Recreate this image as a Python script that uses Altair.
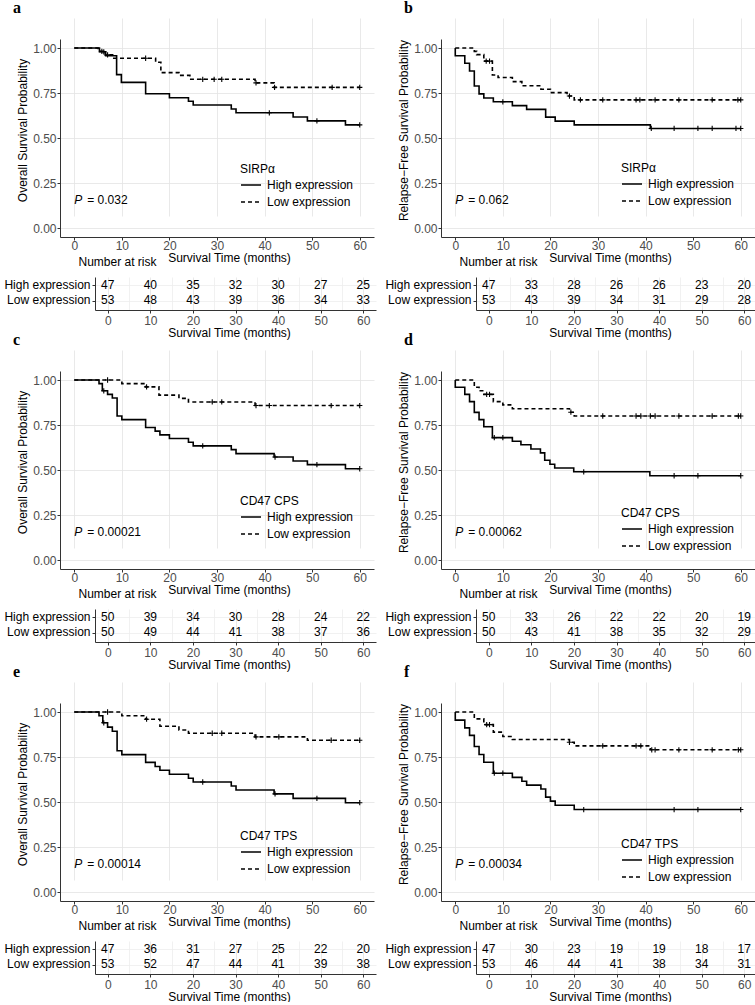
import altair as alt
import pandas as pd

FONT = "Liberation Sans"
SERIF = "Liberation Serif"
GROUPS = ["High expression", "Low expression"]
RISK_TIMES = [0, 10, 20, 30, 40, 50, 60]
X_DOMAIN = [-3, 63]
GRID_MAJOR = "#e3e3e3"
GRID_MINOR = "#eeeeee"
AXIS_INK = "#333333"

# ---------------- panel a : SIRPa, overall survival ----------------
a_high_t = [0, 5.3, 6.6, 8.9, 9.9, 15.0, 20.0, 24.0, 25.0, 33.0, 34.0, 46.0, 49.0, 57.0, 60.0]
a_high_s = [1.0, 0.979, 0.957, 0.852, 0.809, 0.746, 0.724, 0.704, 0.683, 0.661, 0.640, 0.617, 0.595, 0.573, 0.573]
a_high_c = [6.2, 41.0, 51.0, 60.0]
a_low_t = [0, 5.0, 6.5, 8.3, 17.1, 18.2, 22.0, 24.3, 38.0, 42.0, 60.0]
a_low_s = [1.0, 0.981, 0.962, 0.943, 0.921, 0.863, 0.848, 0.826, 0.806, 0.781, 0.781]
a_low_c = [5.8, 7.0, 15.0, 27.0, 29.4, 31.0, 38.2, 42.1, 54.2, 60.0]
a_high_n = [47, 40, 35, 32, 30, 27, 25]
a_low_n = [53, 48, 43, 39, 36, 34, 33]

# ---------------- panel b : SIRPa, relapse-free survival ----------------
b_high_t = [0, 0, 2, 3, 4, 5, 6, 8, 12, 15, 19, 21, 25, 41, 60]
b_high_s = [1.0, 0.957, 0.915, 0.872, 0.789, 0.745, 0.722, 0.701, 0.680, 0.659, 0.616, 0.594, 0.573, 0.553, 0.553]
b_high_c = [10.0, 41.2, 46.0, 51.0, 54.0, 59.0, 60.0]
b_low_t = [0, 4.0, 4.5, 6.0, 7.8, 9.0, 12.0, 14.0, 18.0, 20.0, 23.5, 25.0, 60.0]
b_low_s = [1.0, 0.981, 0.963, 0.927, 0.850, 0.836, 0.813, 0.790, 0.771, 0.752, 0.733, 0.712, 0.712]
b_low_c = [6.5, 7.2, 24.0, 26.3, 31.0, 38.0, 38.8, 42.0, 47.0, 54.0, 59.4, 60.0]
b_high_n = [47, 33, 28, 26, 26, 23, 20]
b_low_n = [53, 43, 39, 34, 31, 29, 28]

# ---------------- panel c : CD47 CPS, overall survival ----------------
c_high_t = [0, 5.2, 5.9, 7.0, 8.0, 9.0, 10.0, 15.0, 17.0, 18.0, 20.0, 24.0, 25.0, 33.0, 34.0, 42.0, 46.0, 49.0, 57.0, 60.0]
c_high_s = [1.0, 0.980, 0.940, 0.920, 0.900, 0.800, 0.780, 0.736, 0.716, 0.695, 0.675, 0.654, 0.634, 0.613, 0.591, 0.572, 0.550, 0.530, 0.507, 0.507]
c_high_c = [6.2, 27.0, 42.2, 51.0, 60.0]
c_low_t = [0, 10.0, 15.0, 17.8, 22.0, 24.0, 38.0, 60.0]
c_low_s = [1.0, 0.980, 0.962, 0.916, 0.898, 0.878, 0.858, 0.858]
c_low_c = [7.0, 15.2, 29.0, 31.0, 38.2, 41.0, 54.0, 60.0]
c_high_n = [50, 39, 34, 30, 28, 24, 22]
c_low_n = [50, 49, 44, 41, 38, 37, 36]

# ---------------- panel d : CD47 CPS, relapse-free survival ----------------
d_high_t = [0, 0, 2, 3, 4, 5, 6, 7.8, 12, 13.8, 15.9, 17.9, 18.8, 19.9, 20.9, 24.9, 40.9, 60]
d_high_s = [1.0, 0.960, 0.920, 0.880, 0.820, 0.780, 0.740, 0.680, 0.660, 0.640, 0.617, 0.595, 0.554, 0.532, 0.511, 0.490, 0.468, 0.468]
d_high_c = [8.2, 10.0, 27.0, 46.0, 51.0, 60.0]
d_low_t = [0, 4.0, 5.0, 6.0, 8.0, 10.0, 12.0, 24.0, 25.0, 60.0]
d_low_s = [1.0, 0.960, 0.940, 0.920, 0.880, 0.862, 0.840, 0.821, 0.800, 0.800]
d_low_c = [6.6, 7.2, 24.3, 31.0, 38.0, 39.0, 41.0, 42.0, 47.0, 54.0, 59.5, 60.0]
d_high_n = [50, 33, 26, 22, 22, 20, 19]
d_low_n = [50, 43, 41, 38, 35, 32, 29]

# ---------------- panel e : CD47 TPS, overall survival ----------------
e_high_t = [0, 5.2, 6.0, 7.0, 8.0, 9.0, 10.0, 15.0, 17.0, 18.0, 20.0, 24.0, 25.0, 33.0, 34.0, 42.0, 46.0, 57.0, 60.0]
e_high_s = [1.0, 0.979, 0.940, 0.916, 0.893, 0.785, 0.763, 0.720, 0.697, 0.676, 0.654, 0.632, 0.611, 0.589, 0.567, 0.545, 0.520, 0.496, 0.496]
e_high_c = [6.2, 27.0, 42.2, 51.0, 60.0]
e_low_t = [0, 10.0, 15.0, 18.0, 22.0, 24.0, 38.0, 49.0, 60.0]
e_low_s = [1.0, 0.979, 0.960, 0.921, 0.900, 0.882, 0.862, 0.843, 0.843]
e_low_c = [7.0, 15.2, 29.0, 31.0, 38.2, 43.0, 54.0, 60.0]
e_high_n = [47, 36, 31, 27, 25, 22, 20]
e_low_n = [53, 52, 47, 44, 41, 39, 38]

# ---------------- panel f : CD47 TPS, relapse-free survival ----------------
f_high_t = [0, 0, 2, 3, 4, 5, 6, 8, 12, 14, 15, 18, 19, 20, 21, 25, 60]
f_high_s = [1.0, 0.955, 0.912, 0.870, 0.808, 0.764, 0.721, 0.660, 0.637, 0.615, 0.594, 0.572, 0.527, 0.505, 0.482, 0.458, 0.458]
f_high_c = [8.2, 10.0, 27.0, 46.0, 51.0, 60.0]
f_low_t = [0, 4.0, 6.0, 8.0, 10.0, 12.0, 24.0, 25.0, 41.0, 60.0]
f_low_s = [1.0, 0.962, 0.930, 0.888, 0.864, 0.847, 0.832, 0.812, 0.790, 0.790]
f_low_c = [6.6, 7.2, 24.0, 31.0, 38.0, 39.0, 41.3, 42.0, 47.0, 54.0, 59.5, 60.0]
f_high_n = [47, 30, 23, 19, 19, 18, 17]
f_low_n = [53, 46, 44, 41, 38, 34, 31]

OS_TITLE = "Overall Survival Probability"
RFS_TITLE = "Relapse\u2212Free Survival Probability"

PANELS = [
    dict(label="a", label_dx=-47, ytitle=OS_TITLE, legend="SIRP\u03b1", legend_y=146, pval="= 0.032",
         high=(a_high_t, a_high_s, a_high_c), low=(a_low_t, a_low_s, a_low_c), high_n=a_high_n, low_n=a_low_n),
    dict(label="b", label_dx=-37, ytitle=RFS_TITLE, legend="SIRP\u03b1", legend_y=145, pval="= 0.062",
         high=(b_high_t, b_high_s, b_high_c), low=(b_low_t, b_low_s, b_low_c), high_n=b_high_n, low_n=b_low_n),
    dict(label="c", label_dx=-47, ytitle=OS_TITLE, legend="CD47 CPS", legend_y=146, pval="= 0.00021",
         high=(c_high_t, c_high_s, c_high_c), low=(c_low_t, c_low_s, c_low_c), high_n=c_high_n, low_n=c_low_n),
    dict(label="d", label_dx=-37, ytitle=RFS_TITLE, legend="CD47 CPS", legend_y=158, pval="= 0.00062",
         high=(d_high_t, d_high_s, d_high_c), low=(d_low_t, d_low_s, d_low_c), high_n=d_high_n, low_n=d_low_n),
    dict(label="e", label_dx=-47, ytitle=OS_TITLE, legend="CD47 TPS", legend_y=149, pval="= 0.00014",
         high=(e_high_t, e_high_s, e_high_c), low=(e_low_t, e_low_s, e_low_c), high_n=e_high_n, low_n=e_low_n),
    dict(label="f", label_dx=-37, ytitle=RFS_TITLE, legend="CD47 TPS", legend_y=157, pval="= 0.00034",
         high=(f_high_t, f_high_s, f_high_c), low=(f_low_t, f_low_s, f_low_c), high_n=f_high_n, low_n=f_low_n),
]


def curve_frame(times, surv, name):
    return pd.DataFrame({"time": times, "surv": surv, "group": name, "idx": range(len(times))})


def censor_frame(times, surv, cens, name):
    # a censoring tick sits on the curve at the value in force at that time
    vals = [surv[max(i for i, t in enumerate(times) if t <= c)] for c in cens]
    return pd.DataFrame({"time": cens, "surv": vals, "group": name})


def time_axis(label_padding, title_padding):
    return alt.Axis(
        values=list(range(0, 61, 5)),
        labelExpr="datum.value % 10 == 0 ? datum.label : ''",
        tickOpacity={"condition": {"test": "datum.value % 10 != 0", "value": 0}, "value": 1},
        gridColor={"condition": {"test": "datum.value % 10 != 0", "value": GRID_MINOR}, "value": GRID_MAJOR},
        grid=True,
        title="Survival Time (months)",
        titleX=169,
        titlePadding=title_padding,
        labelPadding=label_padding,
        tickSize=3,
        labelFlush=False,
    )


def prob_axis(title):
    return alt.Axis(
        values=[i / 8 for i in range(9)],
        format=".2f",
        labelExpr="(datum.value * 8) % 2 == 0 ? datum.label : ''",
        tickOpacity={"condition": {"test": "(datum.value * 8) % 2 != 0", "value": 0}, "value": 1},
        gridColor={"condition": {"test": "(datum.value * 8) % 2 != 0", "value": GRID_MINOR}, "value": GRID_MAJOR},
        grid=True,
        title=title,
        titleY=112,
        titlePadding=3,
        labelPadding=1,
        tickSize=3,
    )


def km_chart(p):
    curves = pd.concat([curve_frame(p["high"][0], p["high"][1], GROUPS[0]),
                        curve_frame(p["low"][0], p["low"][1], GROUPS[1])])
    cens = pd.concat([censor_frame(*p["high"], GROUPS[0]), censor_frame(*p["low"], GROUPS[1])])
    xs = alt.Scale(domain=X_DOMAIN, nice=False, zero=False)
    ys = alt.Scale(domain=[-0.05, 1.05], range=[219, 21], nice=False, zero=False)

    lines = alt.Chart(curves).mark_line(interpolate="step-after", color="black", strokeWidth=1.6).encode(
        x=alt.X("time:Q", scale=xs, axis=time_axis(0, 1)),
        y=alt.Y("surv:Q", scale=ys, axis=prob_axis(p["ytitle"])),
        strokeDash=alt.StrokeDash(
            "group:N",
            scale=alt.Scale(domain=GROUPS, range=[[1, 0], [4, 3]]),
            title=p["legend"],
            legend=alt.Legend(
                orient="none", legendX=180, legendY=p["legend_y"], padding=0,
                symbolType="stroke", symbolSize=400, symbolStrokeWidth=1.6, symbolStrokeColor="black",
                clipHeight=14, rowPadding=3, titlePadding=2, labelOffset=5,
                titleFont=FONT, labelFont=FONT, titleFontSize=12, labelFontSize=12,
                titleFontWeight="normal", titleColor="black", labelColor="black",
            ),
        ),
        order="idx:Q",
    )
    ticks = alt.Chart(cens).mark_point(
        shape="M-1,0L1,0M0,-1L0,1", size=28, filled=False, color="black", strokeWidth=1.1, opacity=1
    ).encode(x="time:Q", y="surv:Q")

    ptab = pd.DataFrame({"p": [p["pval"]]})
    p_italic = alt.Chart(ptab).mark_text(
        text="P", font=FONT, fontSize=12, fontStyle="italic", align="left", baseline="middle", color="black"
    ).encode(x=alt.datum(0), y=alt.datum(0.155))
    p_value = alt.Chart(ptab).mark_text(
        font=FONT, fontSize=12, align="left", baseline="middle", color="black", dx=13
    ).encode(x=alt.datum(0), y=alt.datum(0.155), text="p:N")

    return alt.layer(lines, ticks, p_italic, p_value).properties(
        width=314, height=219,
        title=alt.TitleParams(p["label"], anchor="start", frame="group", dx=p["label_dx"], offset=2,
                              font=SERIF, fontSize=16, fontWeight="bold", color="black"),
    )


def risk_chart(p):
    df = pd.DataFrame({
        "time": RISK_TIMES * 2,
        "n": p["high_n"] + p["low_n"],
        "group": [GROUPS[0]] * 7 + [GROUPS[1]] * 7,
    })
    return alt.Chart(df).mark_text(font=FONT, fontSize=12, color="black", baseline="middle", dy=-1).encode(
        x=alt.X("time:Q", scale=alt.Scale(domain=X_DOMAIN, range=[35, 316], nice=False, zero=False),
                axis=time_axis(2, 1)),
        y=alt.Y("group:N", scale=alt.Scale(type="band", domain=GROUPS, paddingInner=0, paddingOuter=0.05),
                axis=alt.Axis(title=None, offset=-35, tickSize=3, labelPadding=2, labelColor="black",
                              labelOffset=-1, grid=True, gridColor=GRID_MINOR)),
        text="n:Q",
    ).properties(
        width=314, height=33,
        title=alt.TitleParams("Number at risk", anchor="start", frame="group", dx=18.5, offset=8,
                              font=FONT, fontSize=12, fontWeight="normal", color="black"),
    )


cells = []
for i in range(0, 6, 2):
    left, right = PANELS[i], PANELS[i + 1]
    cells += [km_chart(left), km_chart(right), risk_chart(left), risk_chart(right)]

chart = alt.concat(
    *cells,
    columns=2,
    spacing={"row": 40, "column": 67},
    bounds="flush",
    align="each",
    padding={"left": 3, "top": 0, "right": 0, "bottom": 0},
    background="white",
).resolve_scale(
    strokeDash="independent"
).configure_view(
    stroke=None
).configure_axis(
    labelFont=FONT, titleFont=FONT, labelFontSize=12, titleFontSize=12, titleFontWeight="normal",
    labelColor="#4d4d4d", titleColor="black", domainColor=AXIS_INK, tickColor=AXIS_INK,
    domainWidth=1, tickWidth=1, gridWidth=0.8,
)

chart.save("out.html", embed_options={"renderer": "svg", "actions": False})
